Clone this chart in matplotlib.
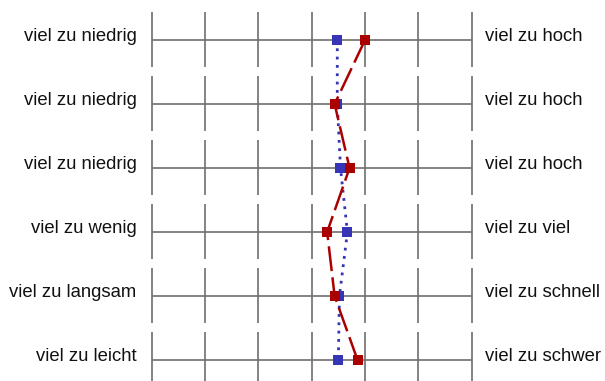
import matplotlib
matplotlib.use("Agg")
import matplotlib.pyplot as plt

left_labels = ["viel zu niedrig", "viel zu niedrig", "viel zu niedrig",
               "viel zu wenig", "viel zu langsam", "viel zu leicht"]
right_labels = ["viel zu hoch", "viel zu hoch", "viel zu hoch",
                "viel zu viel", "viel zu schnell", "viel zu schwer"]
scale_points = [1, 2, 3, 4, 5, 6, 7]
blue_values = [4.48, 4.48, 4.54, 4.67, 4.52, 4.50]
red_values = [5.00, 4.43, 4.71, 4.29, 4.43, 4.86]

plt.rcParams['font.family'] = ['Liberation Sans', 'DejaVu Sans']

W, H = 605, 381
fig = plt.figure(figsize=(W / 100, H / 100), dpi=100)
ax = fig.add_axes([0, 0, 1, 1])
ax.set_axis_off()

px_per_unit_x = 53.33
x0_px = 151.7
ax.set_xlim(1 - x0_px / px_per_unit_x, 1 - x0_px / px_per_unit_x + W / px_per_unit_x)
px_per_row = 64.0
y0_px = 40.0
ax.set_ylim((H - y0_px) / px_per_row, -y0_px / px_per_row)

grid_col = "#6e6e6e"
rows = list(range(len(left_labels)))
for r in rows:
    ax.plot([scale_points[0], scale_points[-1]], [r, r], color=grid_col, lw=1.2, zorder=1,
            solid_capstyle='butt')
    for s in scale_points:
        ax.plot([s, s], [r - 0.44, r + 0.42], color=grid_col, lw=1.2, zorder=1,
                solid_capstyle='butt')
    ax.text(scale_points[0] - 15 / px_per_unit_x, r + 0.015, left_labels[r],
            ha='right', va='baseline', fontsize=13.3, color='#111111')
    ax.text(scale_points[-1] + 13.5 / px_per_unit_x, r + 0.015, right_labels[r],
            ha='left', va='baseline', fontsize=13.3, color='#111111')

ax.plot(blue_values, rows, color="#3535b5", lw=2, linestyle=(0, (1, 2)),
        marker='s', markersize=6.5, markeredgewidth=0, zorder=3)
ax.plot(red_values, rows, color="#aa0000", lw=1.8, linestyle=(0, (10, 2.5)),
        marker='s', markersize=6.5, markeredgewidth=0, zorder=4)

fig.savefig("out.png", dpi=100)
